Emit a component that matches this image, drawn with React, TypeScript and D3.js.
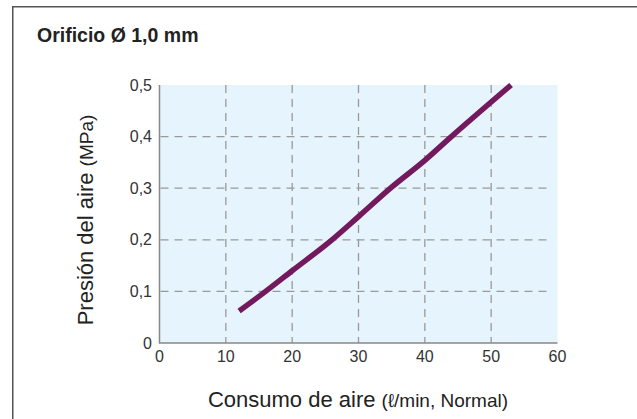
import React from "react";
import * as d3 from "d3";

const titleText = "Orificio Ø 1,0 mm";
const xTicks = [0, 10, 20, 30, 40, 50, 60];
const yTicks = [0, 0.1, 0.2, 0.3, 0.4, 0.5];
const flowValues = [12, 16, 20, 26, 30, 35, 40, 44, 53];
const pressureValues = [0.062, 0.1, 0.14, 0.2, 0.245, 0.302, 0.354, 0.4, 0.5];

const W = 637;
const H = 419;
const left = 159.5;
const right = 557.5;
const top = 85;
const bottom = 343;
const font = "'Liberation Sans', Arial, sans-serif";

export default function App() {
  const x = d3.scaleLinear().domain([0, 60]).range([left, right]);
  const y = d3.scaleLinear().domain([0, 0.5]).range([bottom, top]);
  const pts = flowValues.map((f, i) => [f, pressureValues[i]] as [number, number]);
  const line = d3
    .line<[number, number]>()
    .x((d) => x(d[0]))
    .y((d) => y(d[1]))
    .curve(d3.curveMonotoneX);
  const fmt = (v: number) => (v === 0 ? "0" : v.toFixed(1).replace(".", ","));
  return (
    <svg width={W} height={H} style={{ position: "absolute", left: 0, top: 0, background: "#fff" }}>
      <rect x={0} y={0} width={W} height={H} fill="#fff" />
      <path d={`M12.75,${H} V6.75 H${W}`} fill="none" stroke="#555" strokeWidth={1.5} />
      <text x={37} y={42} fontFamily={font} fontWeight="bold" fontSize={19.5} fill="#222">
        {titleText}
      </text>
      <rect x={left} y={top} width={right - left} height={bottom - top} fill="#e6f5fd" />
      {yTicks.slice(1, -1).map((t) => (
        <line key={"h" + t} x1={left + 1} x2={550} y1={y(t)} y2={y(t)} stroke="#999" strokeWidth={1.3} strokeDasharray="8,6" />
      ))}
      {xTicks.slice(1, -1).map((t) => (
        <line key={"v" + t} x1={x(t)} x2={x(t)} y1={top} y2={bottom} stroke="#999" strokeWidth={1.3} strokeDasharray="8,6" />
      ))}
      <path d={`M${left},${top} V${bottom} H${right}`} fill="none" stroke="#888" strokeWidth={1.5} />
      <path d={line(pts) || ""} fill="none" stroke="#731a5e" strokeWidth={5.5} strokeLinecap="butt" />
      {yTicks.map((t) => (
        <text key={"yt" + t} x={152} y={y(t) + 5.5} textAnchor="end" fontFamily={font} fontSize={16} fill="#333">
          {fmt(t)}
        </text>
      ))}
      {xTicks.map((t) => (
        <text key={"xt" + t} x={x(t)} y={362} textAnchor="middle" fontFamily={font} fontSize={16} fill="#333">
          {t}
        </text>
      ))}
      <text x={358} y={407} textAnchor="middle" fontFamily={font} fontSize={22} fill="#222">
        Consumo de aire <tspan fontSize={19}>(ℓ/min, Normal)</tspan>
      </text>
      <text
        transform={`translate(93,220) rotate(-90)`}
        textAnchor="middle"
        fontFamily={font}
        fontSize={22}
        fill="#222"
      >
        Presión del aire <tspan fontSize={19}>(MPa)</tspan>
      </text>
    </svg>
  );
}
